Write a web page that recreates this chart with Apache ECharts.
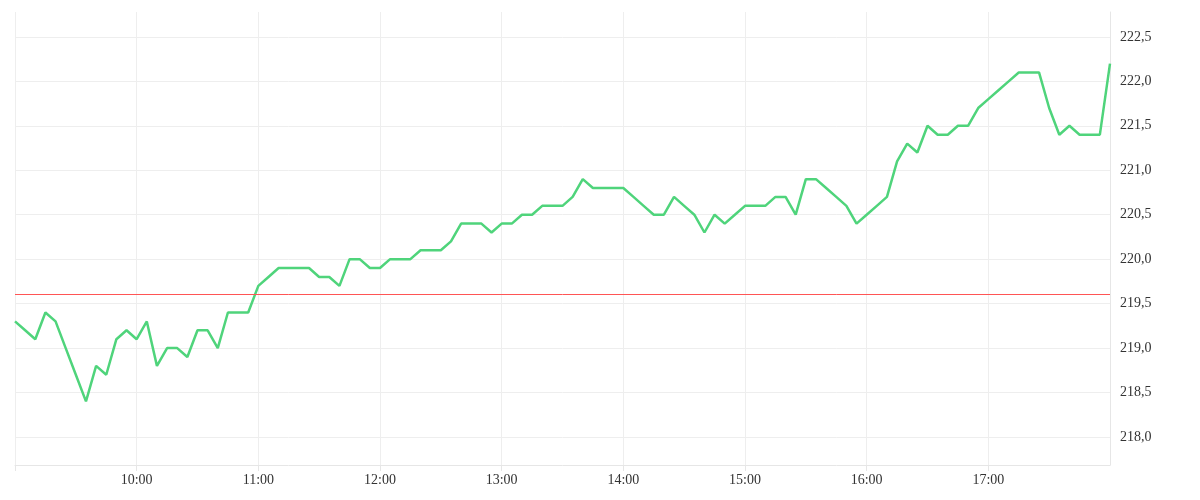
<!DOCTYPE html>
<html><head><meta charset="utf-8">
<script src="https://cdn.jsdelivr.net/npm/echarts@6/dist/echarts.min.js"></script>
<style>html,body{margin:0;padding:0;background:#fff}#c{width:1200px;height:500px}</style>
</head><body><div id="c"></div>
<script>
const times = ["09:00","09:05","09:10","09:15","09:20","09:25","09:30","09:35","09:40","09:45","09:50","09:55",
"10:00","10:05","10:10","10:15","10:20","10:25","10:30","10:35","10:40","10:45","10:50","10:55",
"11:00","11:05","11:10","11:15","11:20","11:25","11:30","11:35","11:40","11:45","11:50","11:55",
"12:00","12:05","12:10","12:15","12:20","12:25","12:30","12:35","12:40","12:45","12:50","12:55",
"13:00","13:05","13:10","13:15","13:20","13:25","13:30","13:35","13:40","13:45","13:50","13:55",
"14:00","14:05","14:10","14:15","14:20","14:25","14:30","14:35","14:40","14:45","14:50","14:55",
"15:00","15:05","15:10","15:15","15:20","15:25","15:30","15:35","15:40","15:45","15:50","15:55",
"16:00","16:05","16:10","16:15","16:20","16:25","16:30","16:35","16:40","16:45","16:50","16:55",
"17:00","17:05","17:10","17:15","17:20","17:25","17:30","17:35","17:40","17:45","17:50","17:55","18:00"];
const prices = [219.3,219.2,219.1,219.4,219.3,219.0,218.7,218.4,218.8,218.7,219.1,219.2,
219.1,219.3,218.8,219.0,219.0,218.9,219.2,219.2,219.0,219.4,219.4,219.4,
219.7,219.8,219.9,219.9,219.9,219.9,219.8,219.8,219.7,220.0,220.0,219.9,
219.9,220.0,220.0,220.0,220.1,220.1,220.1,220.2,220.4,220.4,220.4,220.3,
220.4,220.4,220.5,220.5,220.6,220.6,220.6,220.7,220.9,220.8,220.8,220.8,
220.8,220.7,220.6,220.5,220.5,220.7,220.6,220.5,220.3,220.5,220.4,220.5,
220.6,220.6,220.6,220.7,220.7,220.5,220.9,220.9,220.8,220.7,220.6,220.4,
220.5,220.6,220.7,221.1,221.3,221.2,221.5,221.4,221.4,221.5,221.5,221.7,
221.8,221.9,222.0,222.1,222.1,222.1,221.7,221.4,221.5,221.4,221.4,221.4,222.2];
const referencePrice = 219.61;
const yTicks = [218.0,218.5,219.0,219.5,220.0,220.5,221.0,221.5,222.0,222.5];

const day = "2024-01-02T";
const toMs = t => new Date(day + t + ":00Z").getTime();
const data = times.map((t,i)=>[toMs(t), prices[i]]);
const font = "Liberation Serif";
const chart = echarts.init(document.getElementById('c'));
chart.setOption({
  animation:false,
  grid:{left:15,right:90,top:12,bottom:35,outerBoundsMode:'none',containLabel:false},
  xAxis:{type:'time',min:toMs("09:00"),max:toMs("18:00"),interval:3600000,
    axisLine:{show:true,lineStyle:{color:'#e6e6e6'}},
    axisTick:{show:true,length:6,lineStyle:{color:'#e6e6e6'}},
    splitLine:{show:true,lineStyle:{color:'#eeeeee'}},
    axisLabel:{color:'#333',fontFamily:font,fontSize:14,
      formatter:v=>{const d=new Date(v);const h=d.getUTCHours();if(h<10||h>17)return '';return String(h).padStart(2,'0')+':'+String(d.getUTCMinutes()).padStart(2,'0');}}},
  yAxis:{type:'value',position:'right',min:217.685,max:222.78,
    axisLine:{show:true,lineStyle:{color:'#e6e6e6'}},
    axisTick:{show:false,customValues:yTicks},
    splitLine:{lineStyle:{color:'#eeeeee'}},
    axisLabel:{color:'#333',fontFamily:font,fontSize:14,margin:10,
      customValues:yTicks,
      formatter:v=>v.toFixed(1).replace('.',',')}},
  series:[{type:'line',data:data,showSymbol:false,
    lineStyle:{color:'#4fd47b',width:2.5},itemStyle:{color:'#4fd47b'},
    markLine:{silent:true,symbol:['none','none'],label:{show:false},
      lineStyle:{color:'#f55',width:1,type:'solid'},data:[{yAxis:referencePrice}]}}]
});
</script></body></html>
